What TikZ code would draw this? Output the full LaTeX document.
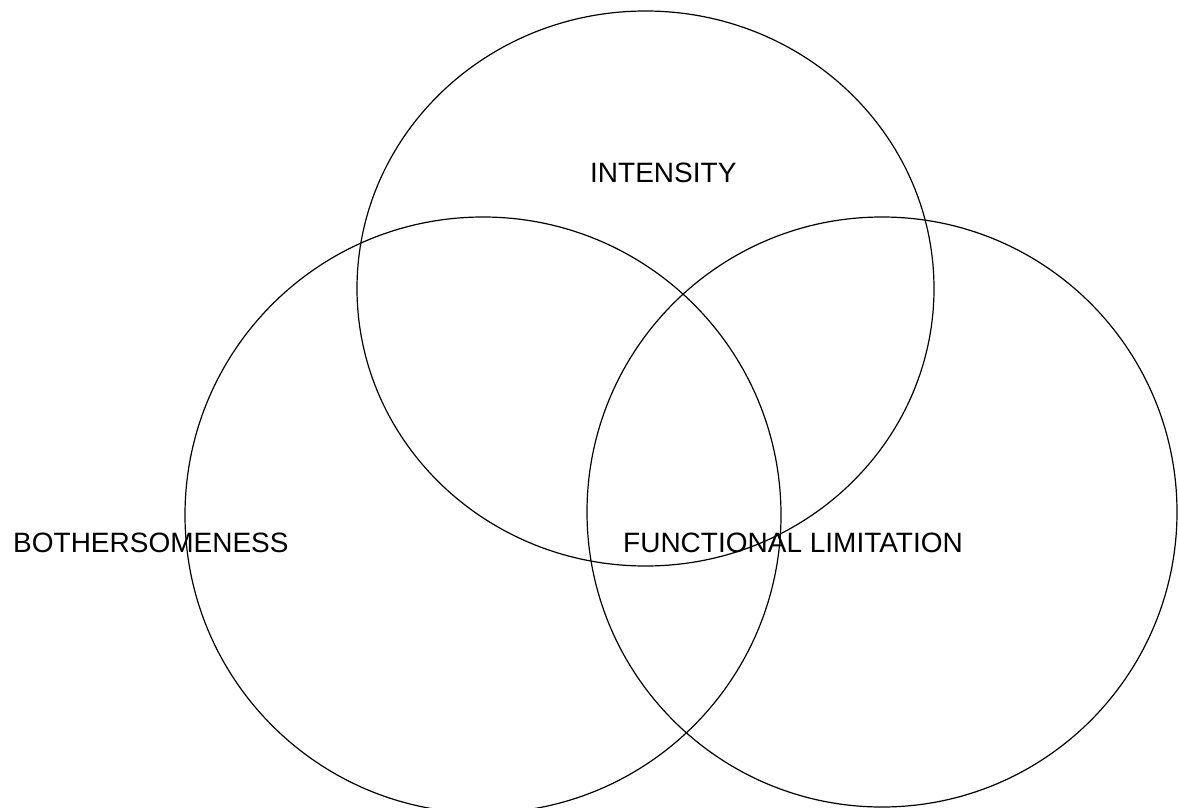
\documentclass[tikz,border=0pt]{standalone}
\usepackage{fontspec}
\setmainfont{Liberation Sans}
\begin{document}
\begin{tikzpicture}[x=1pt,y=-1pt,
  ring/.style={draw=black,line width=1.2pt},
  lbl/.style={anchor=base west,inner sep=0pt,font=\fontsize{28}{32}\selectfont}]
\useasboundingbox (0,0) rectangle (1178,808);
\clip (0,0) rectangle (1178,808);
\fill[white] (0,0) rectangle (1178,808);
\draw[ring] (645.5,288.5) ellipse [x radius=288.5, y radius=277.5];
\draw[ring] (483,515) circle [radius=298];
\draw[ring] (882,512) circle [radius=295];
\node[lbl] (int) at (590,182) {INTENSITY};
\node[lbl] (both) at (13,552) {BOTHERSOMENESS};
\node[lbl] (func) at (623,552) {FUNCTIONAL LIMITATION};
\end{tikzpicture}
\end{document}
